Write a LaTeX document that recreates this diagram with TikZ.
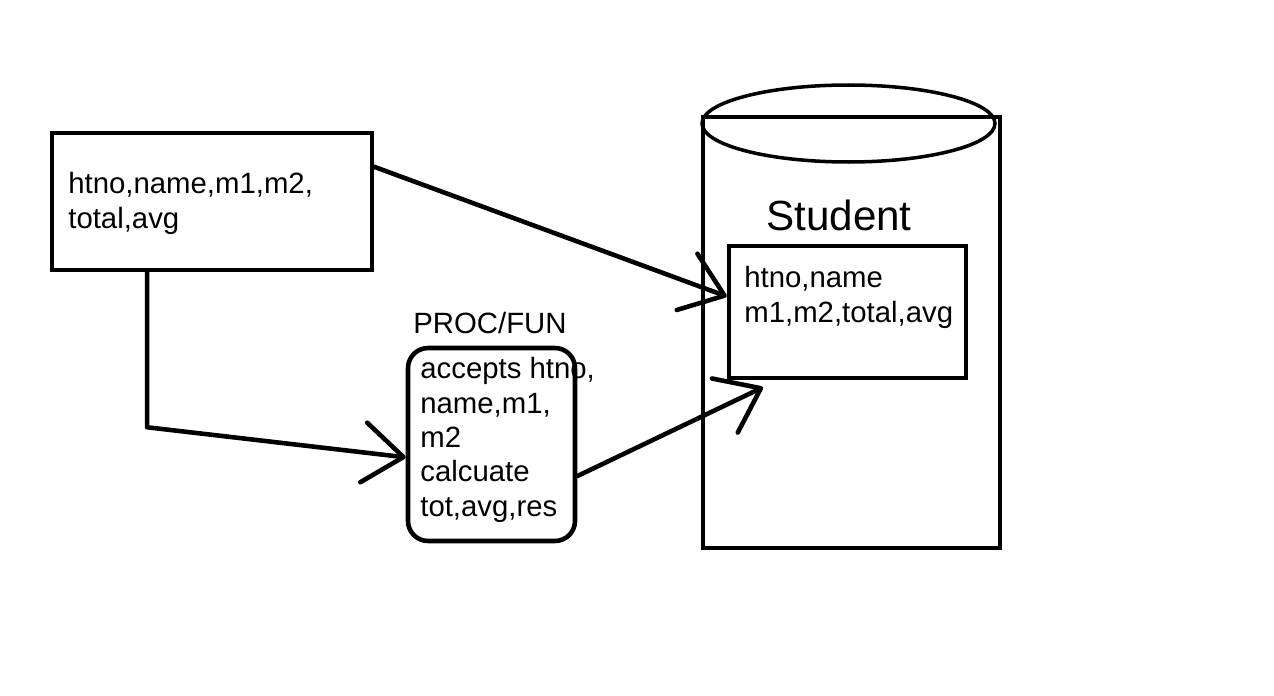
\documentclass[tikz,border=0pt]{standalone}
\usepackage{fontspec}
\setmainfont{Liberation Sans}
\usetikzlibrary{arrows.meta,calc}

\tikzset{
  box/.style={draw,line width=2.6pt,inner sep=0pt},
  txt/.style={anchor=north west,inner sep=0pt,align=left,font=\fontsize{16.7}{19.6}\selectfont},
  barb/.style={line width=2.6pt,line cap=round,line join=round,-{Straight Barb[length=0.8cm,width=1.2cm,round]}},
}

\begin{document}
\begin{tikzpicture}[x=0.02cm,y=-0.02cm]
  \useasboundingbox (0,0) rectangle (1274,696);
  % record
  \node[txt] (recordtxt) at (68,172) {htno,name,m1,m2,\\total,avg};
  \node[box,minimum width=6.4cm,minimum height=2.74cm] (record) at (212,201.5) {};
  % procedure
  \node[txt] (proctitle) at (413,312) {PROC/FUN};
  \node[txt] (proctxt) at (420,357) {accepts htno,\\name,m1,\\m2\\calcuate\\tot,avg,res};
  \node[box,rounded corners=0.4cm,minimum width=3.34cm,minimum height=3.86cm] (proc) at (491.5,444.5) {};
  % table
  \draw[line width=2.6pt] (703,117) rectangle (1000,548);
  \draw[line width=2pt] (848.5,123.5) ellipse [x radius=2.93cm,y radius=0.77cm];
  \node[txt,font=\fontsize{24}{28}\selectfont] (table) at (766,200) {Student};
  \node[txt] (tabletxt) at (744,266) {htno,name\\m1,m2,total,avg};
  \node[box,minimum width=4.74cm,minimum height=2.64cm] (fields) at (847.5,312) {};
  % connectors
  \coordinate (bend) at ($(record.south west)!0.3!(record.south east)+(0,155)$);
  \draw[barb] ($(record.north east)!0.255!(record.south east)$) -- ($(fields.north west)!0.386!(fields.south west)$);
  \draw[barb] ($(record.south west)!0.3!(record.south east)$) -- (bend) -- ($(proc.north west)!0.565!(proc.south west)$);
  \draw[barb] ($(proc.north east)!0.66!(proc.south east)$) -- ($(fields.south west)!0.15!(fields.south east)+(0,7)$);
\end{tikzpicture}
\end{document}
